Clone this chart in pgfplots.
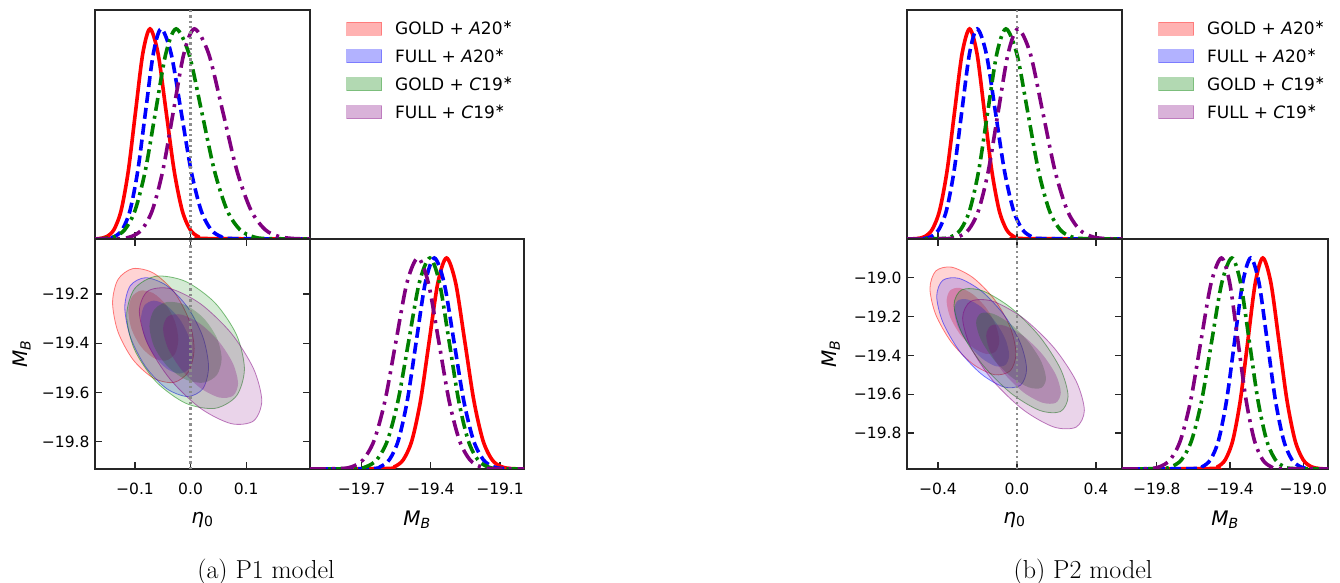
\documentclass[border=0pt]{standalone}
\usepackage{pgfplots}
\pgfplotsset{compat=1.18}
\usepackage{fontspec}
\newfontfamily\djv{DejaVu Sans}
\definecolor{mplgreen}{rgb}{0,0.5,0}
\definecolor{mplpurple}{rgb}{0.5,0,0.5}
\definecolor{frame}{gray}{0.15}

\pgfplotsset{
  panel/.style={scale only axis, anchor=south west,
    axis line style={line width=1.3pt, draw=frame},
    tick style={line width=1.2pt, draw=frame}, major tick length=7pt, tick align=inside,
    tick label style={font=\djv\fontsize{15.5}{18}\selectfont},
    xticklabel style={yshift=-10pt}, yticklabel style={xshift=-2pt},
    label style={font=\djv\fontsize{20}{22}\selectfont},
    xlabel style={at={(axis description cs:0.5,-0.222)}, anchor=center}},
  oned/.style={panel, ymin=0, ymax=1.09, ytick=\empty, xtick pos=left},
  c1/.style={red, line width=3.6pt, smooth, forget plot},
  c2/.style={blue, line width=3.6pt, smooth, dash pattern=on 11pt off 5pt, forget plot},
  c3/.style={mplgreen, line width=3.6pt, smooth, dash pattern=on 13pt off 5pt on 3pt off 5pt, forget plot},
  c4/.style={mplpurple, line width=3.6pt, smooth, dash pattern=on 16pt off 6pt on 3pt off 6pt, forget plot},
  outer/.style={fill=#1, fill opacity=0.17, draw=#1, draw opacity=0.5, line width=0.8pt, smooth cycle, forget plot},
  inner/.style={fill=#1, fill opacity=0.27, draw=none, smooth cycle, forget plot},
  zero/.style={black!45, line width=2.4pt, dash pattern=on 2.4pt off 3pt, forget plot},
  leg/.style={legend style={draw=none, fill=none, at={(axis description cs:1.1674,0.962)},
    anchor=north west, inner sep=0pt, row sep=8.7pt,
    font=\djv\fontsize{17}{20}\selectfont, nodes={inner sep=2pt},
    /tikz/every odd column/.append style={column sep=11pt}}, legend cell align=left},
  patch/.style={legend image code/.code={\draw[fill=#1, fill opacity=0.3, draw=#1, draw opacity=0.3, line width=1pt] (0pt,-6.5pt) rectangle (35pt,6.5pt);}},
}

\begin{document}
\begin{tikzpicture}
\useasboundingbox (0pt,0pt) rectangle (1340pt,583pt);

% ---------------- (a) P1 model ----------------
\begin{axis}[oned, leg, at={(95pt,344pt)}, width=215pt, height=229pt,
  xmin=-0.172, xmax=0.215, xtick={-0.1,0,0.1}, xticklabels={,,}]
\addplot[c1] coordinates {(-0.172,0) (-0.164,0.0022) (-0.151,0.0111) (-0.138,0.0439) (-0.125,0.1353) (-0.112,0.3247) (-0.099,0.6065) (-0.086,0.8825) (-0.073,1) (-0.0585,0.8825) (-0.044,0.6065) (-0.0295,0.3247) (-0.015,0.1353) (-0.0005,0.0439) (0.014,0.0111) (0.0285,0.0022) (0.215,0)};
\addplot[c2] coordinates {(-0.172,0) (-0.151,0.0022) (-0.137,0.0111) (-0.123,0.0439) (-0.109,0.1353) (-0.095,0.3247) (-0.081,0.6065) (-0.067,0.8825) (-0.053,1) (-0.035,0.8825) (-0.017,0.6065) (0.001,0.3247) (0.019,0.1353) (0.037,0.0439) (0.055,0.0111) (0.073,0.0022) (0.215,0)};
\addplot[c3] coordinates {(-0.172,0) (-0.1555,0.0022) (-0.137,0.0111) (-0.1185,0.0439) (-0.100,0.1353) (-0.0815,0.3247) (-0.063,0.6065) (-0.0445,0.8825) (-0.026,1) (-0.003,0.8825) (0.020,0.6065) (0.043,0.3247) (0.066,0.1353) (0.089,0.0439) (0.112,0.0111) (0.135,0.0022) (0.215,0)};
\addplot[c4] coordinates {(-0.172,0) (-0.126,0.0022) (-0.107,0.0111) (-0.088,0.0439) (-0.069,0.1353) (-0.050,0.3247) (-0.031,0.6065) (-0.012,0.8825) (0.007,1) (0.0325,0.8825) (0.058,0.6065) (0.0835,0.3247) (0.109,0.1353) (0.1345,0.0439) (0.160,0.0111) (0.1855,0.0022) (0.215,0)};
\addplot[zero] coordinates {(0,0) (0,1.09)};
\addlegendimage{patch=red}\addlegendentry{GOLD + \textit{A}20\textsuperscript{∗}}
\addlegendimage{patch=blue}\addlegendentry{FULL + \textit{A}20\textsuperscript{∗}}
\addlegendimage{patch=mplgreen}\addlegendentry{GOLD + \textit{C}19\textsuperscript{∗}}
\addlegendimage{patch=mplpurple}\addlegendentry{FULL + \textit{C}19\textsuperscript{∗}}
\end{axis}

\begin{axis}[panel, at={(95pt,114pt)}, width=215pt, height=230pt,
  xmin=-0.172, xmax=0.215, ymin=-19.91, ymax=-18.977,
  xtick={-0.1,0,0.1}, xticklabels={−0.1,0.0,0.1},
  ytick={-19.8,-19.6,-19.4,-19.2}, yticklabels={−19.8,−19.6,−19.4,−19.2},
  xlabel={{\itshape η}\textsubscript{0}}, ylabel={\itshape M\textsubscript{B}},
  ylabel style={at={(axis description cs:-0.34,0.5)}, anchor=center}]
\addplot[outer=red] coordinates {(0.0064,-19.421) (-0.0034,-19.302) (-0.0303,-19.190) (-0.067,-19.115) (-0.1037,-19.097) (-0.1306,-19.141) (-0.1404,-19.235) (-0.1306,-19.354) (-0.1037,-19.466) (-0.067,-19.541) (-0.0303,-19.559) (-0.0034,-19.515)};
\addplot[inner=red] coordinates {(-0.022,-19.385) (-0.028,-19.312) (-0.0445,-19.243) (-0.067,-19.197) (-0.0895,-19.186) (-0.106,-19.213) (-0.112,-19.271) (-0.106,-19.344) (-0.0895,-19.413) (-0.067,-19.459) (-0.0445,-19.470) (-0.028,-19.443)};
\addplot[outer=blue] coordinates {(0.0324,-19.496) (0.0223,-19.375) (-0.0053,-19.254) (-0.043,-19.166) (-0.0807,-19.134) (-0.1083,-19.166) (-0.1184,-19.254) (-0.1083,-19.375) (-0.0807,-19.496) (-0.043,-19.584) (-0.0053,-19.616) (0.0223,-19.584)};
\addplot[inner=blue] coordinates {(0.0032,-19.449) (-0.003,-19.375) (-0.0199,-19.301) (-0.043,-19.247) (-0.0661,-19.227) (-0.083,-19.247) (-0.0892,-19.301) (-0.083,-19.375) (-0.0661,-19.449) (-0.043,-19.503) (-0.0199,-19.523) (-0.003,-19.503)};
\addplot[outer=mplgreen] coordinates {(0.097,-19.504) (0.0828,-19.366) (0.044,-19.236) (-0.009,-19.149) (-0.062,-19.128) (-0.1008,-19.179) (-0.115,-19.288) (-0.1008,-19.426) (-0.062,-19.556) (-0.009,-19.643) (0.044,-19.664) (0.0828,-19.613)};
\addplot[inner=mplgreen] coordinates {(0.056,-19.462) (0.0473,-19.378) (0.0235,-19.298) (-0.009,-19.245) (-0.0415,-19.232) (-0.0653,-19.263) (-0.074,-19.330) (-0.0653,-19.415) (-0.0415,-19.494) (-0.009,-19.547) (0.0235,-19.560) (0.0473,-19.529)};
\addplot[outer=mplpurple] coordinates {(0.1282,-19.633) (0.1134,-19.503) (0.0731,-19.359) (0.018,-19.240) (-0.0371,-19.178) (-0.0774,-19.189) (-0.0922,-19.271) (-0.0774,-19.401) (-0.0371,-19.545) (0.018,-19.664) (0.0731,-19.726) (0.1134,-19.715)};
\addplot[inner=mplpurple] coordinates {(0.0855,-19.563) (0.0765,-19.483) (0.0518,-19.395) (0.018,-19.322) (-0.0158,-19.284) (-0.0405,-19.291) (-0.0495,-19.341) (-0.0405,-19.421) (-0.0158,-19.509) (0.018,-19.582) (0.0518,-19.620) (0.0765,-19.613)};
\addplot[zero] coordinates {(0,-19.91) (0,-18.977)};
\end{axis}

\begin{axis}[oned, at={(310pt,114pt)}, width=214pt, height=230pt,
  xmin=-19.924, xmax=-18.996, xtick={-19.7,-19.4,-19.1}, xticklabels={−19.7,−19.4,−19.1},
  xlabel={\itshape M\textsubscript{B}}]
\addplot[c1] coordinates {(-19.924,0) (-19.5945,0.0022) (-19.557,0.0111) (-19.5195,0.0439) (-19.482,0.1353) (-19.4445,0.3247) (-19.407,0.6065) (-19.3695,0.8825) (-19.332,1) (-19.2925,0.8825) (-19.253,0.6065) (-19.2135,0.3247) (-19.174,0.1353) (-19.1345,0.0439) (-19.095,0.0111) (-19.0555,0.0022) (-18.996,0)};
\addplot[c2] coordinates {(-19.924,0) (-19.658,0.0022) (-19.619,0.0111) (-19.58,0.0439) (-19.541,0.1353) (-19.502,0.3247) (-19.463,0.6065) (-19.424,0.8825) (-19.385,1) (-19.3425,0.8825) (-19.300,0.6065) (-19.2575,0.3247) (-19.215,0.1353) (-19.1725,0.0439) (-19.130,0.0111) (-19.0875,0.0022) (-18.996,0)};
\addplot[c3] coordinates {(-19.924,0) (-19.726,0.0022) (-19.680,0.0111) (-19.634,0.0439) (-19.588,0.1353) (-19.542,0.3247) (-19.496,0.6065) (-19.450,0.8825) (-19.404,1) (-19.3625,0.8825) (-19.321,0.6065) (-19.2795,0.3247) (-19.238,0.1353) (-19.1965,0.0439) (-19.155,0.0111) (-19.1135,0.0022) (-18.996,0)};
\addplot[c4] coordinates {(-19.924,0) (-19.7885,0.0022) (-19.741,0.0111) (-19.6935,0.0439) (-19.646,0.1353) (-19.5985,0.3247) (-19.551,0.6065) (-19.5035,0.8825) (-19.456,1) (-19.411,0.8825) (-19.366,0.6065) (-19.321,0.3247) (-19.276,0.1353) (-19.231,0.0439) (-19.186,0.0111) (-19.141,0.0022) (-18.996,0)};
\end{axis}

% ---------------- (b) P2 model ----------------
\begin{axis}[oned, leg, at={(907pt,344pt)}, width=215pt, height=229pt,
  xmin=-0.557, xmax=0.532, xtick={-0.4,0,0.4}, xticklabels={,,}]
\addplot[c1] coordinates {(-0.557,0) (-0.506,0.0022) (-0.468,0.0111) (-0.430,0.0439) (-0.392,0.1353) (-0.354,0.3247) (-0.316,0.6065) (-0.278,0.8825) (-0.240,1) (-0.2025,0.8825) (-0.165,0.6065) (-0.1275,0.3247) (-0.090,0.1353) (-0.0525,0.0439) (-0.015,0.0111) (0.0225,0.0022) (0.532,0)};
\addplot[c2] coordinates {(-0.557,0) (-0.4745,0.0022) (-0.4355,0.0111) (-0.3965,0.0439) (-0.3575,0.1353) (-0.3185,0.3247) (-0.2795,0.6065) (-0.2405,0.8825) (-0.2015,1) (-0.1555,0.8825) (-0.1095,0.6065) (-0.0635,0.3247) (-0.0175,0.1353) (0.0285,0.0439) (0.0745,0.0111) (0.1205,0.0022) (0.532,0)};
\addplot[c3] coordinates {(-0.557,0) (-0.378,0.0022) (-0.332,0.0111) (-0.286,0.0439) (-0.240,0.1353) (-0.194,0.3247) (-0.148,0.6065) (-0.102,0.8825) (-0.056,1) (-0.001,0.8825) (0.054,0.6065) (0.109,0.3247) (0.164,0.1353) (0.219,0.0439) (0.274,0.0111) (0.329,0.0022) (0.532,0)};
\addplot[c4] coordinates {(-0.557,0) (-0.345,0.0022) (-0.295,0.0111) (-0.245,0.0439) (-0.195,0.1353) (-0.145,0.3247) (-0.095,0.6065) (-0.045,0.8825) (0.005,1) (0.0675,0.8825) (0.130,0.6065) (0.1925,0.3247) (0.255,0.1353) (0.3175,0.0439) (0.380,0.0111) (0.4425,0.0022) (0.532,0)};
\addplot[zero] coordinates {(0,0) (0,1.09)};
\addlegendimage{patch=red}\addlegendentry{GOLD + \textit{A}20\textsuperscript{∗}}
\addlegendimage{patch=blue}\addlegendentry{FULL + \textit{A}20\textsuperscript{∗}}
\addlegendimage{patch=mplgreen}\addlegendentry{GOLD + \textit{C}19\textsuperscript{∗}}
\addlegendimage{patch=mplpurple}\addlegendentry{FULL + \textit{C}19\textsuperscript{∗}}
\end{axis}

\begin{axis}[panel, at={(907pt,114pt)}, width=215pt, height=230pt,
  xmin=-0.557, xmax=0.532, ymin=-19.985, ymax=-18.80,
  xtick={-0.4,0,0.4}, xticklabels={−0.4,0.0,0.4},
  ytick={-19.8,-19.6,-19.4,-19.2,-19.0}, yticklabels={−19.8,−19.6,−19.4,−19.2,−19.0},
  xlabel={{\itshape η}\textsubscript{0}}, ylabel={\itshape M\textsubscript{B}},
  ylabel style={at={(axis description cs:-0.353,0.5)}, anchor=center}]
\addplot[outer=red] coordinates {(-0.0051,-19.390) (-0.0343,-19.255) (-0.114,-19.112) (-0.223,-18.999) (-0.332,-18.945) (-0.4117,-18.965) (-0.4409,-19.055) (-0.4117,-19.189) (-0.332,-19.332) (-0.223,-19.445) (-0.114,-19.499) (-0.0343,-19.479)};
\addplot[inner=red] coordinates {(-0.0895,-19.325) (-0.1074,-19.243) (-0.1562,-19.155) (-0.223,-19.085) (-0.2898,-19.052) (-0.3386,-19.065) (-0.3565,-19.119) (-0.3386,-19.202) (-0.2898,-19.289) (-0.223,-19.359) (-0.1562,-19.392) (-0.1074,-19.379)};
\addplot[outer=blue] coordinates {(0.0487,-19.471) (0.0182,-19.339) (-0.0651,-19.192) (-0.179,-19.069) (-0.2929,-19.003) (-0.3762,-19.013) (-0.4067,-19.095) (-0.3762,-19.227) (-0.2929,-19.375) (-0.179,-19.497) (-0.0651,-19.563) (0.0182,-19.553)};
\addplot[inner=blue] coordinates {(-0.0395,-19.398) (-0.0582,-19.317) (-0.1092,-19.227) (-0.179,-19.152) (-0.2488,-19.112) (-0.2998,-19.117) (-0.3185,-19.168) (-0.2998,-19.249) (-0.2488,-19.339) (-0.179,-19.414) (-0.1092,-19.455) (-0.0582,-19.449)};
\addplot[outer=mplgreen] coordinates {(0.2589,-19.610) (0.2202,-19.469) (0.1145,-19.302) (-0.03,-19.155) (-0.1745,-19.067) (-0.2802,-19.062) (-0.3189,-19.140) (-0.2802,-19.282) (-0.1745,-19.448) (-0.03,-19.595) (0.1145,-19.683) (0.2202,-19.689)};
\addplot[inner=mplgreen] coordinates {(0.147,-19.519) (0.1233,-19.432) (0.0585,-19.330) (-0.03,-19.240) (-0.1185,-19.186) (-0.1833,-19.183) (-0.207,-19.231) (-0.1833,-19.318) (-0.1185,-19.420) (-0.03,-19.510) (0.0585,-19.564) (0.1233,-19.567)};
\addplot[outer=mplpurple] coordinates {(0.3414,-19.683) (0.3001,-19.533) (0.1872,-19.360) (0.033,-19.209) (-0.1212,-19.121) (-0.2341,-19.121) (-0.2754,-19.207) (-0.2341,-19.357) (-0.1212,-19.531) (0.033,-19.681) (0.1872,-19.769) (0.3001,-19.769)};
\addplot[inner=mplpurple] coordinates {(0.222,-19.591) (0.1967,-19.499) (0.1275,-19.393) (0.033,-19.300) (-0.0615,-19.247) (-0.1307,-19.246) (-0.156,-19.299) (-0.1307,-19.391) (-0.0615,-19.497) (0.033,-19.590) (0.1275,-19.643) (0.1967,-19.644)};
\addplot[zero] coordinates {(0,-19.985) (0,-18.80)};
\end{axis}

\begin{axis}[oned, at={(1122pt,114pt)}, width=206pt, height=230pt,
  xmin=-19.99, xmax=-18.865, xtick={-19.8,-19.4,-19.0}, xticklabels={−19.8,−19.4,−19.0},
  xlabel={\itshape M\textsubscript{B}}]
\addplot[c1] coordinates {(-19.99,0) (-19.508,0.0022) (-19.467,0.0111) (-19.426,0.0439) (-19.385,0.1353) (-19.344,0.3247) (-19.303,0.6065) (-19.262,0.8825) (-19.221,1) (-19.177,0.8825) (-19.133,0.6065) (-19.089,0.3247) (-19.045,0.1353) (-19.001,0.0439) (-18.957,0.0111) (-18.913,0.0022) (-18.865,0)};
\addplot[c2] coordinates {(-19.99,0) (-19.595,0.0022) (-19.551,0.0111) (-19.507,0.0439) (-19.463,0.1353) (-19.419,0.3247) (-19.375,0.6065) (-19.331,0.8825) (-19.287,1) (-19.242,0.8825) (-19.197,0.6065) (-19.152,0.3247) (-19.107,0.1353) (-19.062,0.0439) (-19.017,0.0111) (-18.972,0.0022) (-18.865,0)};
\addplot[c3] coordinates {(-19.99,0) (-19.775,0.0022) (-19.72,0.0111) (-19.665,0.0439) (-19.61,0.1353) (-19.555,0.3247) (-19.50,0.6065) (-19.445,0.8825) (-19.39,1) (-19.3425,0.8825) (-19.295,0.6065) (-19.2475,0.3247) (-19.20,0.1353) (-19.1525,0.0439) (-19.105,0.0111) (-19.0575,0.0022) (-18.865,0)};
\addplot[c4] coordinates {(-19.99,0) (-19.839,0.0022) (-19.783,0.0111) (-19.727,0.0439) (-19.671,0.1353) (-19.615,0.3247) (-19.559,0.6065) (-19.503,0.8825) (-19.447,1) (-19.402,0.8825) (-19.357,0.6065) (-19.312,0.3247) (-19.267,0.1353) (-19.222,0.0439) (-19.177,0.0111) (-19.132,0.0022) (-18.865,0)};
\end{axis}

\node[font=\fontsize{26}{30}\selectfont] at (266pt,11pt) {(a) P1 model};
\node[font=\fontsize{26}{30}\selectfont] at (1083pt,11pt) {(b) P2 model};
\end{tikzpicture}
\end{document}
